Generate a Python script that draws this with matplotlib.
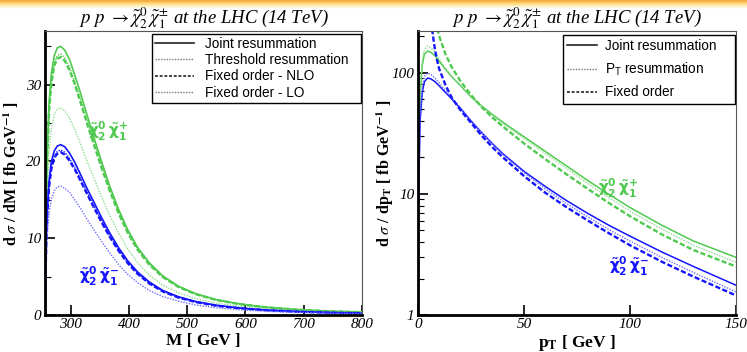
import matplotlib as mpl
import matplotlib.pyplot as plt
import numpy as np
from matplotlib.lines import Line2D
from matplotlib.colors import LinearSegmentedColormap

# --- invariant mass distribution (left panel), dsigma/dM in fb/GeV
mass = [256, 257, 258, 260, 263, 267, 272, 277, 283, 290, 298, 307, 317, 328,
        340, 353, 367, 382, 398, 415, 435, 458, 485, 515, 550, 590, 635, 685,
        740, 800]
m_plus_joint = [0, 8.8, 14.7, 21.7, 27.7, 31.5, 33.8, 34.8, 35.0, 34.5, 33.3,
                31.3, 28.9, 26.1, 23.1, 20.0, 16.8, 13.8, 11.1, 8.8, 6.8, 5.1,
                3.75, 2.77, 2.0, 1.44, 1.02, 0.72, 0.51, 0.37]
m_plus_thresh = [0, 8.5, 14.3, 21.1, 26.9, 30.6, 32.8, 33.8, 34.0, 33.5, 32.3,
                 30.4, 28.1, 25.4, 22.5, 19.5, 16.4, 13.5, 10.9, 8.6, 6.65, 5.0,
                 3.7, 2.73, 1.97, 1.42, 1.0, 0.71, 0.5, 0.36]
m_plus_nlo = [0, 8.4, 14.1, 20.8, 26.5, 30.2, 32.5, 33.4, 33.6, 33.1, 31.9,
              30.1, 27.7, 25.0, 22.2, 19.2, 16.2, 13.3, 10.7, 8.5, 6.55, 4.95,
              3.65, 2.7, 1.95, 1.41, 1.0, 0.71, 0.5, 0.36]
m_plus_lo = [0, 6.75, 11.3, 16.7, 21.3, 24.3, 26.1, 26.8, 27.0, 26.6, 25.7,
             24.2, 22.3, 20.1, 17.8, 15.4, 13.0, 10.7, 8.6, 6.8, 5.2, 3.9,
             2.9, 2.13, 1.54, 1.1, 0.78, 0.55, 0.39, 0.28]
m_minus_joint = [0, 5.55, 9.3, 13.8, 17.5, 20.0, 21.4, 22.0, 22.2, 21.9, 21.1,
                 19.9, 18.3, 16.5, 14.7, 12.7, 10.7, 8.8, 7.06, 5.6, 4.3, 3.2,
                 2.38, 1.75, 1.27, 0.91, 0.64, 0.46, 0.32, 0.23]
m_minus_thresh = [0, 5.4, 9.0, 13.3, 17.0, 19.4, 20.8, 21.3, 21.5, 21.2, 20.4,
                  19.2, 17.7, 16.0, 14.2, 12.3, 10.3, 8.5, 6.85, 5.4, 4.15,
                  3.12, 2.3, 1.7, 1.23, 0.88, 0.62, 0.44, 0.31, 0.23]
m_minus_nlo = [0, 5.3, 8.9, 13.1, 16.7, 19.1, 20.5, 21.0, 21.2, 20.9, 20.1,
               19.0, 17.5, 15.8, 14.0, 12.1, 10.2, 8.4, 6.75, 5.35, 4.1, 3.07,
               2.27, 1.68, 1.21, 0.87, 0.62, 0.44, 0.31, 0.22]
m_minus_lo = [0, 4.2, 7.1, 10.4, 13.3, 15.1, 16.2, 16.7, 16.8, 16.5, 16.0,
              15.0, 13.9, 12.5, 11.1, 9.6, 8.1, 6.6, 5.3, 4.2, 3.2, 2.4, 1.8,
              1.3, 0.95, 0.68, 0.48, 0.34, 0.24, 0.17]

# --- transverse momentum distribution (right panel), dsigma/dpT in fb/GeV
pt = [0.05, 0.5, 1, 2, 3, 4.5, 6, 8, 10, 13, 16, 20, 25, 30, 35, 40, 50, 60,
      70, 80, 90, 100, 115, 130, 150]
p_plus_joint = [1.0, 25, 65, 115, 142, 150, 147, 138, 124, 106, 92, 78, 63,
                53, 45.2, 38.9, 29.5, 22.4, 17.0, 12.9, 9.9, 7.7, 5.5, 4.07,
                2.99]
p_plus_ptres = [1.0, 27, 70, 125, 155, 165, 160, 148, 130, 108, 93, 77.6,
                62.8, 52.5, 44.5, 38, 28.5, 21.5, 16.2, 12.2, 9.3, 7.2, 5.1,
                3.76, 2.72]
p_minus_joint = [1.0, 15, 40, 68, 84, 90, 88.7, 84.1, 77.6, 68.4, 60.3, 50.7,
                 39.8, 32, 26, 21.4, 15.3, 11.5, 8.8, 6.9, 5.5, 4.47, 3.31,
                 2.51, 1.76]
p_minus_ptres = [1.0, 17, 44, 75, 93, 99, 96.6, 90.2, 82.2, 70.8, 61.7, 51.3,
                 40.3, 32, 25.8, 21.1, 14.9, 11.0, 8.3, 6.46, 5.07, 4.07, 2.99,
                 2.24, 1.55]
pt_fo = [4, 5, 6, 7, 8, 9, 10, 13, 16, 20, 25, 30, 35, 40, 50, 60, 70, 80, 90,
         100, 115, 130, 150]
p_plus_fo = [1260, 794, 500, 363, 282, 234, 200, 141, 110, 85, 65.3, 51.9,
             42.7, 35.9, 26.0, 19.3, 14.5, 11.0, 8.4, 6.53, 4.62, 3.43, 2.51]
p_minus_fo = [800, 457, 288, 204, 155, 126, 107, 78.5, 61.7, 49, 38.5, 30.2,
              24.3, 20.0, 14.0, 10.2, 7.76, 6.03, 4.73, 3.76, 2.75, 2.07, 1.45]

GREEN = '#4fc94f'
LGREEN = '#8fdc8f'
BLUE = '#1414ff'
LBLUE = '#6f6fff'

SERIF = 'Liberation Serif'
SANS = 'Liberation Sans'

mpl.rcParams['font.family'] = SERIF

fig = plt.figure(figsize=(7.47, 3.52), dpi=100)

# orange band along the top of the slide
band = fig.add_axes([0, 1 - 9 / 352, 1, 9 / 352])
cmap = LinearSegmentedColormap.from_list(
    'band', ['#f3a43a', '#fbd46a', '#fdf0c0', '#ffffff'])
band.imshow(np.linspace(0, 1, 50).reshape(-1, 1), aspect='auto', cmap=cmap,
            extent=[0, 1, 0, 1])
band.axis('off')

ax1 = fig.add_axes([45 / 747, 37 / 352, 317 / 747, 284 / 352])
ax2 = fig.add_axes([418 / 747, 37 / 352, 318 / 747, 284 / 352])

dash_nlo = (0, (2.2, 1.0))
dots = (0, (1, 1))

ax1.plot(mass, m_plus_joint, color=GREEN, lw=1.2)
ax1.plot(mass, m_plus_thresh, color=GREEN, lw=1.0, ls=dots)
ax1.plot(mass, m_plus_nlo, color=GREEN, lw=1.7, ls=dash_nlo)
ax1.plot(mass, m_plus_lo, color=LGREEN, lw=1.0, ls=dots)
ax1.plot(mass, m_minus_joint, color=BLUE, lw=1.2)
ax1.plot(mass, m_minus_thresh, color=BLUE, lw=1.0, ls=dots)
ax1.plot(mass, m_minus_nlo, color=BLUE, lw=1.7, ls=dash_nlo)
ax1.plot(mass, m_minus_lo, color=LBLUE, lw=1.0, ls=dots)

ax2.plot(pt, p_plus_joint, color=GREEN, lw=1.1)
ax2.plot(pt, p_plus_ptres, color=LGREEN, lw=1.0, ls=dots)
ax2.plot(pt_fo, p_plus_fo, color=GREEN, lw=1.7, ls=dash_nlo)
ax2.plot(pt, p_minus_joint, color=BLUE, lw=1.1)
ax2.plot(pt, p_minus_ptres, color=LBLUE, lw=1.0, ls=dots)
ax2.plot(pt_fo, p_minus_fo, color=BLUE, lw=1.7, ls=dash_nlo)

ax1.set_xlim(256, 800)
ax1.set_ylim(0, 37)
ax1.set_xticks([300, 400, 500, 600, 700, 800])
ax1.set_yticks([0, 10, 20, 30])
ax1.set_yticks([5, 15, 25, 35], minor=True)

ax2.set_yscale('log')
ax2.set_xlim(0, 150)
ax2.set_ylim(1, 220)
ax2.set_xticks([0, 50, 100, 150])
ax2.set_yticks([1, 10, 100])
ax2.set_yticklabels(['1', '10', '100'])

for ax in (ax1, ax2):
    ax.tick_params(which='major', direction='in', length=7, width=1.2,
                   top=False, right=False, labelsize=11, pad=2.5)
    ax.tick_params(which='minor', direction='in', length=4, width=0.8,
                   top=False, right=False)
    for lab in ax.get_xticklabels() + ax.get_yticklabels():
        lab.set_fontstyle('italic')
        lab.set_family(SERIF)
    ax.spines['bottom'].set_linewidth(2)
    ax.spines['left'].set_linewidth(2)
    ax.spines['top'].set_linewidth(0.8)
    ax.spines['right'].set_linewidth(0.8)
    ax.spines['top'].set_color('#555555')
    ax.spines['right'].set_color('#555555')

title = ('$p\\ p\\ \\rightarrow \\tilde{\\chi}^{0}_{2}\\,\\tilde{\\chi}^{\\pm}_{1}$'
         ' at the LHC (14 TeV)')
for ax in (ax1, ax2):
    ax.set_title(title, fontsize=13.5, fontstyle='italic', family=SERIF,
                 math_fontfamily='stix', pad=3)

xlab_kw = dict(fontsize=12.5, fontweight='bold', family=SERIF,
               math_fontfamily='stix', va='top')
ylab_kw = dict(fontsize=11.5, fontweight='bold', family=SERIF,
               math_fontfamily='stix')
ax1.set_xlabel('M [ GeV ]', **xlab_kw)
ax1.set_ylabel('d $\\sigma$ / dM [ fb GeV$^{\\mathbf{-1}}$ ]', **ylab_kw)
ax2.set_xlabel('p$_{\\mathbf{T}}$ [ GeV ]', **xlab_kw)
ax2.set_ylabel('d $\\sigma$ / dp$_{\\mathbf{T}}$ [ fb GeV$^{\\mathbf{-1}}$ ]',
               **ylab_kw)
ax1.xaxis.set_label_coords(0.5, -0.064)
ax2.xaxis.set_label_coords(0.5, -0.064)
ax1.yaxis.set_label_coords(-0.075, 0.5)
ax2.yaxis.set_label_coords(-0.068, 0.5)

# legends with black proxy lines, stretched to the reference box widths
h1 = [Line2D([], [], color='#222222', lw=1.2),
      Line2D([], [], color='#777777', lw=1.0, ls=dots),
      Line2D([], [], color='#333333', lw=1.3, ls=(0, (1.6, 1.0))),
      Line2D([], [], color='#777777', lw=1.0, ls=dots)]
leg1 = ax1.legend(h1, ['Joint resummation', 'Threshold resummation',
                       'Fixed order - NLO', 'Fixed order - LO'],
                  loc='upper left', bbox_to_anchor=(0.3375, 0.0, 0.659, 0.99),
                  mode='expand', borderaxespad=0,
                  prop={'family': SANS, 'size': 9.8}, fancybox=False,
                  edgecolor='black', framealpha=1, handlelength=2.9,
                  labelspacing=0.18, borderpad=0.2, handletextpad=0.8)
leg1.get_frame().set_linewidth(1.0)

h2 = [Line2D([], [], color='#222222', lw=1.2),
      Line2D([], [], color='#777777', lw=1.0, ls=dots),
      Line2D([], [], color='#333333', lw=1.3, ls=(0, (1.6, 1.0)))]
leg2 = ax2.legend(h2, ['Joint resummation', 'P$_\\mathregular{T}$ resummation',
                       'Fixed order'],
                  loc='upper left', bbox_to_anchor=(0.456, 0.0, 0.541, 0.986),
                  mode='expand', borderaxespad=0,
                  prop={'family': SANS, 'size': 9.8}, fancybox=False,
                  edgecolor='black', framealpha=1, handlelength=2.2,
                  labelspacing=0.55, borderpad=0.3, handletextpad=0.6)
leg2.get_frame().set_linewidth(1.0)

chi_plus = '$\\mathbf{\\tilde{\\chi}^{0}_{2}\\,\\tilde{\\chi}^{+}_{1}}$'
chi_minus = '$\\mathbf{\\tilde{\\chi}^{0}_{2}\\,\\tilde{\\chi}^{-}_{1}}$'
txt_kw = dict(fontsize=11, ha='center', va='center',
              math_fontfamily='dejavusans')
ax1.text(0.20, 0.645, chi_plus, color=GREEN, transform=ax1.transAxes, **txt_kw)
ax1.text(0.17, 0.135, chi_minus, color=BLUE, transform=ax1.transAxes, **txt_kw)
ax2.text(0.63, 0.447, chi_plus, color=GREEN, transform=ax2.transAxes, **txt_kw)
ax2.text(0.665, 0.17, chi_minus, color=BLUE, transform=ax2.transAxes, **txt_kw)

fig.savefig('out.png', dpi=100)
